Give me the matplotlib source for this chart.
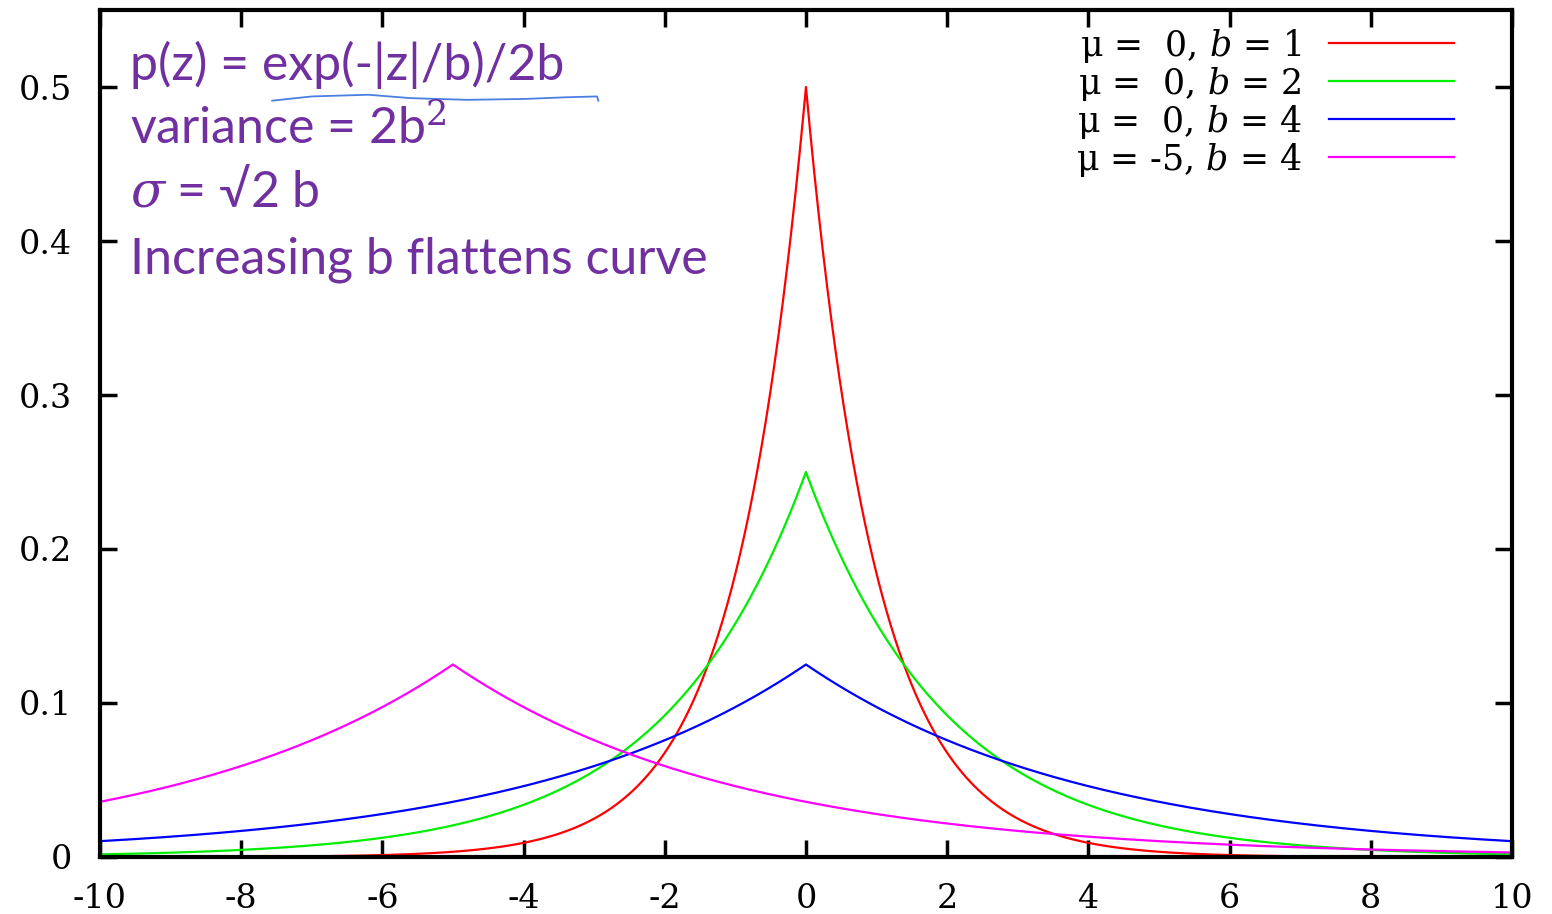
import numpy as np
import matplotlib
matplotlib.use("Agg")
import matplotlib.pyplot as plt

plt.rcParams["font.family"] = ["DejaVu Serif"]
plt.rcParams["mathtext.fontset"] = "dejavuserif"

# Laplace parameters for each curve
mus = [0, 0, 0, -5]
bs = [1, 2, 4, 4]
colors = ["#ff0000", "#00ee00", "#0000ff", "#ff00ff"]
labels = [r"$\mathrm{\mu}$ =  0, $b$ = 1",
          r"$\mathrm{\mu}$ =  0, $b$ = 2",
          r"$\mathrm{\mu}$ =  0, $b$ = 4",
          r"$\mathrm{\mu}$ = -5, $b$ = 4"]
xticks = [-10, -8, -6, -4, -2, 0, 2, 4, 6, 8, 10]
yticks = [0, 0.1, 0.2, 0.3, 0.4, 0.5]
ytick_labels = ["0", "0.1", "0.2", "0.3", "0.4", "0.5"]

fig = plt.figure(figsize=(15.52, 9.14), dpi=100)
ax = fig.add_axes([0.0644, 0.0624, 0.9098, 0.9266])

z = np.linspace(-10, 10, 2001)
for mu, b, c, lab in zip(mus, bs, colors, labels):
    p = np.exp(-np.abs(z - mu) / b) / (2 * b)
    ax.plot(z, p, color=c, linewidth=1.6, label=lab)

ax.set_xlim(-10, 10)
ax.set_ylim(0, 0.55)
ax.set_xticks(xticks)
ax.set_xticklabels([str(t) for t in xticks])
ax.set_yticks(yticks)
ax.set_yticklabels(ytick_labels)
ax.tick_params(direction="in", length=12, width=2.5, labelsize=24,
               top=True, right=True)
ax.tick_params(axis="x", pad=19)
ax.tick_params(axis="y", pad=20)
for s in ax.spines.values():
    s.set_linewidth(3)

leg = ax.legend(loc="upper right", markerfirst=False, frameon=False,
                fontsize=25, handlelength=3.6, handletextpad=0.8,
                labelspacing=0.0, borderaxespad=0.2,
                bbox_to_anchor=(0.974, 1.005))
for t in leg.get_texts():
    t.set_ha("right")

purple = "#7030a0"
fam = ["Lato", "DejaVu Sans"]
ax.text(0.021, 0.935, "p(z) = exp(-|z|/b)/2b", transform=ax.transAxes,
        fontsize=36, color=purple, family=fam, va="center")
ax.text(0.021, 0.86, "variance = 2b$^2$", transform=ax.transAxes,
        fontsize=36, color=purple, family=fam, va="center")
ax.text(0.021, 0.785, "$\\sigma$ = \u221a2 b", transform=ax.transAxes,
        fontsize=36, color=purple, family=fam, va="center")
ax.text(0.021, 0.705, "Increasing b flattens curve", transform=ax.transAxes,
        fontsize=36, color=purple, family=fam, va="center")

# hand-drawn underline
ux = [0.122, 0.15, 0.19, 0.22, 0.26, 0.30, 0.33, 0.352, 0.353]
uy = [0.893, 0.898, 0.900, 0.896, 0.894, 0.895, 0.897, 0.898, 0.893]
ax.plot(ux, uy, transform=ax.transAxes, color="#4a7fe0", linewidth=1.3)

fig.savefig("out.png", dpi=100, facecolor="white")
